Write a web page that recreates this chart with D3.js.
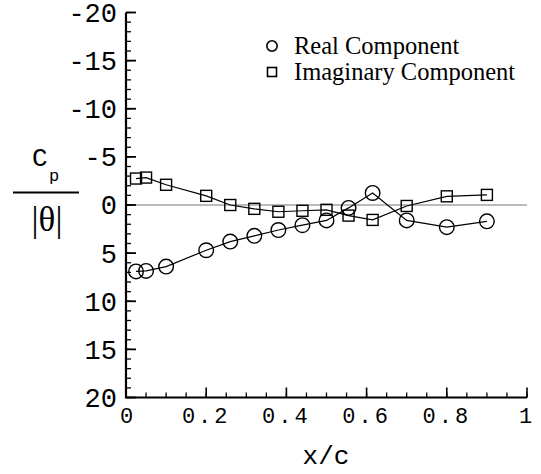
<!DOCTYPE html>
<html>
<head>
<meta charset="utf-8">
<script src="https://cdn.jsdelivr.net/npm/d3@7"></script>
<style>
  html, body { margin: 0; padding: 0; background: #fff; }
  svg { display: block; }
</style>
</head>
<body>
<svg id="chart" width="541" height="474"></svg>
<script>
// ---- data ----
const realX = [0.025, 0.05, 0.1, 0.2, 0.26, 0.32, 0.38, 0.44, 0.5, 0.555, 0.615, 0.7, 0.8, 0.9];
const realY = [6.9, 6.85, 6.4, 4.7, 3.8, 3.2, 2.6, 2.1, 1.6, 0.3, -1.25, 1.6, 2.3, 1.7];
const imagX = [0.025, 0.05, 0.1, 0.2, 0.26, 0.32, 0.38, 0.44, 0.5, 0.555, 0.615, 0.7, 0.8, 0.9];
const imagY = [-2.75, -2.85, -2.1, -0.95, 0.0, 0.4, 0.7, 0.6, 0.5, 1.1, 1.55, 0.1, -0.9, -1.05];
const xTicks = [0, 0.2, 0.4, 0.6, 0.8, 1];
const xTickLabels = ["0", "0.2", "0.4", "0.6", "0.8", "1"];
const yTicks = [-20, -15, -10, -5, 0, 5, 10, 15, 20];
const yTickLabels = ["-20", "-15", "-10", "-5", "0", "5", "10", "15", "20"];
const seriesNames = ["Real Component", "Imaginary Component"];

// ---- layout ----
const svg = d3.select("#chart");
const x = d3.scaleLinear().domain([0, 1]).range([126, 527]);
const y = d3.scaleLinear().domain([-20, 20]).range([12.5, 397.5]);
const mono = "'Liberation Mono', 'DejaVu Sans Mono', monospace";
const serif = "'Liberation Serif', 'DejaVu Serif', serif";

// zero line
svg.append("line")
  .attr("x1", x(0)).attr("x2", x(1))
  .attr("y1", y(0)).attr("y2", y(0))
  .attr("stroke", "#777").attr("stroke-width", 1);

// axes
const xMinor = d3.range(0, 1.0001, 0.05);
const yMinor = d3.range(-20, 20.0001, 1);

const axG = svg.append("g");
axG.selectAll(".xm").data(xMinor).enter().append("line")
  .attr("x1", d => x(d)).attr("x2", d => x(d))
  .attr("y1", y(20)).attr("y2", y(20) - 5)
  .attr("stroke", "#000").attr("stroke-width", 1.3);
axG.selectAll(".xM").data(xTicks).enter().append("line")
  .attr("x1", d => x(d)).attr("x2", d => x(d))
  .attr("y1", y(20)).attr("y2", y(20) - 10)
  .attr("stroke", "#000").attr("stroke-width", 1.6);
axG.selectAll(".ym").data(yMinor).enter().append("line")
  .attr("x1", x(0)).attr("x2", x(0) + 5)
  .attr("y1", d => y(d)).attr("y2", d => y(d))
  .attr("stroke", "#000").attr("stroke-width", 1.3);
axG.selectAll(".yM").data(yTicks).enter().append("line")
  .attr("x1", x(0)).attr("x2", x(0) + 10)
  .attr("y1", d => y(d)).attr("y2", d => y(d))
  .attr("stroke", "#000").attr("stroke-width", 1.8);
axG.append("path")
  .attr("d", `M${x(0)},${y(-20)}V${y(20)}H${x(1)}`)
  .attr("fill", "none").attr("stroke", "#000").attr("stroke-width", 2.2);

// tick labels
svg.selectAll(".xl").data(xTicks).enter().append("text")
  .attr("x", (d, i) => x(d) + (i === 0 ? 2 : 0))
  .attr("y", y(20) + 25)
  .attr("text-anchor", "middle")
  .attr("font-family", mono).attr("font-size", 22)
  .attr("letter-spacing", 3)
  .text((d, i) => xTickLabels[i]);

svg.selectAll(".yl").data(yTicks).enter().append("text")
  .attr("x", x(0) - 9)
  .attr("y", d => y(d))
  .attr("dy", "0.35em")
  .attr("text-anchor", "end")
  .attr("font-family", mono).attr("font-size", 27)
  .text((d, i) => yTickLabels[i]);

// axis titles
svg.append("text")
  .attr("x", 326).attr("y", 464)
  .attr("text-anchor", "middle")
  .attr("font-family", mono).attr("font-size", 26)
  .text("x/c");

const yt = svg.append("g");
yt.append("text").attr("x", 32).attr("y", 166)
  .attr("font-family", mono).attr("font-size", 26).text("C");
yt.append("text").attr("x", 49).attr("y", 181)
  .attr("font-family", mono).attr("font-size", 17).text("p");
yt.append("line").attr("x1", 13).attr("x2", 79).attr("y1", 192.5).attr("y2", 192.5)
  .attr("stroke", "#000").attr("stroke-width", 2);
yt.append("text").attr("x", 47).attr("y", 231)
  .attr("text-anchor", "middle")
  .attr("font-family", serif).attr("font-size", 35).text("|θ|");

// series lines
const line = d3.line().x(d => x(d[0])).y(d => y(d[1]));
const realPts = realX.map((v, i) => [v, realY[i]]);
const imagPts = imagX.map((v, i) => [v, imagY[i]]);

svg.append("path").attr("d", line(realPts))
  .attr("fill", "none").attr("stroke", "#000").attr("stroke-width", 1.2);
svg.append("path").attr("d", line(imagPts))
  .attr("fill", "none").attr("stroke", "#000").attr("stroke-width", 1.2);

svg.selectAll(".sq").data(imagPts).enter().append("rect")
  .attr("x", d => x(d[0]) - 5.5).attr("y", d => y(d[1]) - 5.5)
  .attr("width", 11).attr("height", 11)
  .attr("fill", "none").attr("stroke", "#000").attr("stroke-width", 1.4);
svg.selectAll(".ci").data(realPts).enter().append("circle")
  .attr("cx", d => x(d[0])).attr("cy", d => y(d[1]))
  .attr("r", 7.3)
  .attr("fill", "none").attr("stroke", "#000").attr("stroke-width", 1.4);

// legend
const lg = svg.append("g");
lg.append("circle").attr("cx", 272).attr("cy", 46).attr("r", 5.2)
  .attr("fill", "none").attr("stroke", "#000").attr("stroke-width", 1.6);
lg.append("rect").attr("x", 267.5).attr("y", 67.5).attr("width", 9).attr("height", 9)
  .attr("fill", "none").attr("stroke", "#000").attr("stroke-width", 1.6);
lg.append("text").attr("x", 294).attr("y", 54)
  .attr("font-family", serif).attr("font-size", 24.5).text(seriesNames[0]);
lg.append("text").attr("x", 294).attr("y", 80)
  .attr("font-family", serif).attr("font-size", 24.5).text(seriesNames[1]);
</script>
</body>
</html>
